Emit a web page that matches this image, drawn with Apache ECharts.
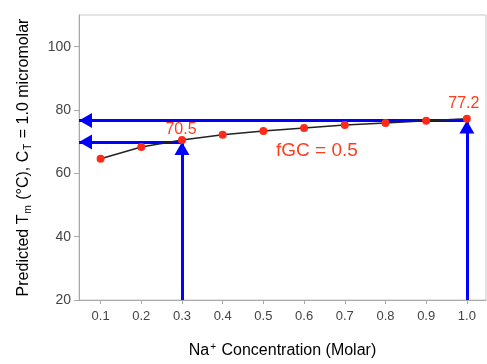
<!DOCTYPE html>
<html><head><meta charset="utf-8">
<script src="https://cdn.jsdelivr.net/npm/echarts@6/dist/echarts.min.js"></script>
<style>html,body{margin:0;padding:0;background:#fff}#c{width:487px;height:364px}</style>
</head><body><div id="c"></div>
<script>
var naConc = [0.1, 0.2, 0.3, 0.4, 0.5, 0.6, 0.7, 0.8, 0.9, 1.0];
var tmValues = [64.6, 68.3, 70.5, 72.2, 73.4, 74.3, 75.3, 75.9, 76.6, 77.2];
var xTicks = [0.1, 0.2, 0.3, 0.4, 0.5, 0.6, 0.7, 0.8, 0.9, 1.0];
var yTicks = [20, 40, 60, 80, 100];
var labeledX = [0.3, 1.0];
var labeledTm = [70.5, 77.2];
var arrowLevels = [69.9, 76.7];
var annotationText = 'fGC = 0.5';

var xMin = 0.047, xMax = 1.047, yMin = 20, yMax = 110;
var red = '#ff2a1a', textRed = '#ff3c1e', blue = '#0000ff';

var pts = naConc.map(function (x, i) {
  var item = { value: [x, tmValues[i]] };
  var k = labeledX.indexOf(x);
  if (k >= 0) {
    item.label = { show: true, formatter: String(labeledTm[k].toFixed(1)), position: 'top',
      color: textRed, fontSize: 16, fontFamily: 'Liberation Sans',
      distance: k === 0 ? 0 : 3, offset: [k === 0 ? -1 : -3, k === 0 ? 2 : 0] };
  }
  return item;
});

function head(coord) {
  return { coord: coord, symbol: 'triangle', symbolSize: [15, 13], symbolOffset: [0, 6.5] };
}
var arrows = [];
labeledX.forEach(function (x, k) {
  var y = arrowLevels[k];
  arrows.push([{ coord: [x, y], symbol: 'none' }, head([xMin, y])]);
  arrows.push([{ coord: [x, yMin], symbol: 'none' }, head([x, y])]);
});

var chart = echarts.init(document.getElementById('c'));
chart.setOption({
  animation: false,
  grid: { left: 79, top: 15, right: 1, bottom: 64, show: true, borderColor: '#c8c8c8', borderWidth: 1 },
  xAxis: {
    type: 'value', min: xMin, max: xMax,
    name: '{b|Na}{sup|+}{b| Concentration (Molar)}', nameLocation: 'middle', nameGap: 42,
    nameTextStyle: { color: '#000', fontFamily: 'Liberation Sans', fontSize: 16,
      rich: { b: { fontSize: 16, color: '#000', fontFamily: 'Liberation Sans' },
              sup: { fontSize: 10, color: '#000', fontFamily: 'Liberation Sans', verticalAlign: 'top', padding: [0, 1, 8, 1] } } },
    axisLine: { lineStyle: { color: '#aaa' } },
    axisTick: { customValues: xTicks, length: 4, lineStyle: { color: '#aaa' } },
    axisLabel: { customValues: xTicks, color: '#444', fontSize: 13, fontFamily: 'Liberation Sans', margin: 10,
      formatter: function (v) { return v.toFixed(1); } },
    splitLine: { show: false }
  },
  yAxis: {
    type: 'value', min: yMin, max: yMax,
    name: '{b|Predicted T}{sub|m}{b| (°C), C}{sub|T}{b| = 1.0 micromolar}', nameLocation: 'middle', nameGap: 46,
    nameTextStyle: { color: '#000', fontFamily: 'Liberation Sans', fontSize: 16,
      rich: { b: { fontSize: 16, color: '#000', fontFamily: 'Liberation Sans' },
              sub: { fontSize: 10, color: '#000', fontFamily: 'Liberation Sans', verticalAlign: 'bottom', padding: [8, 1, 0, 1] } } },
    axisLine: { show: true, lineStyle: { color: '#aaa' } },
    axisTick: { show: true, customValues: yTicks, length: 5, lineStyle: { color: '#aaa' } },
    axisLabel: { customValues: yTicks, color: '#444', fontSize: 14, fontFamily: 'Liberation Sans', margin: 8 },
    splitLine: { show: false }
  },
  series: [{
    type: 'line', data: pts, symbol: 'circle', symbolSize: 8,
    lineStyle: { color: '#222', width: 1.5 },
    itemStyle: { color: red },
    z: 3,
    markLine: {
      silent: true, symbol: ['none', 'triangle'],
      lineStyle: { color: blue, width: 3, type: 'solid' },
      label: { show: false }, data: arrows, z: 1
    }
  }],
  graphic: [{
    type: 'text', left: 276, top: 141,
    style: { text: annotationText, fill: textRed, font: '19px "Liberation Sans"' }
  }]
});
</script></body></html>
